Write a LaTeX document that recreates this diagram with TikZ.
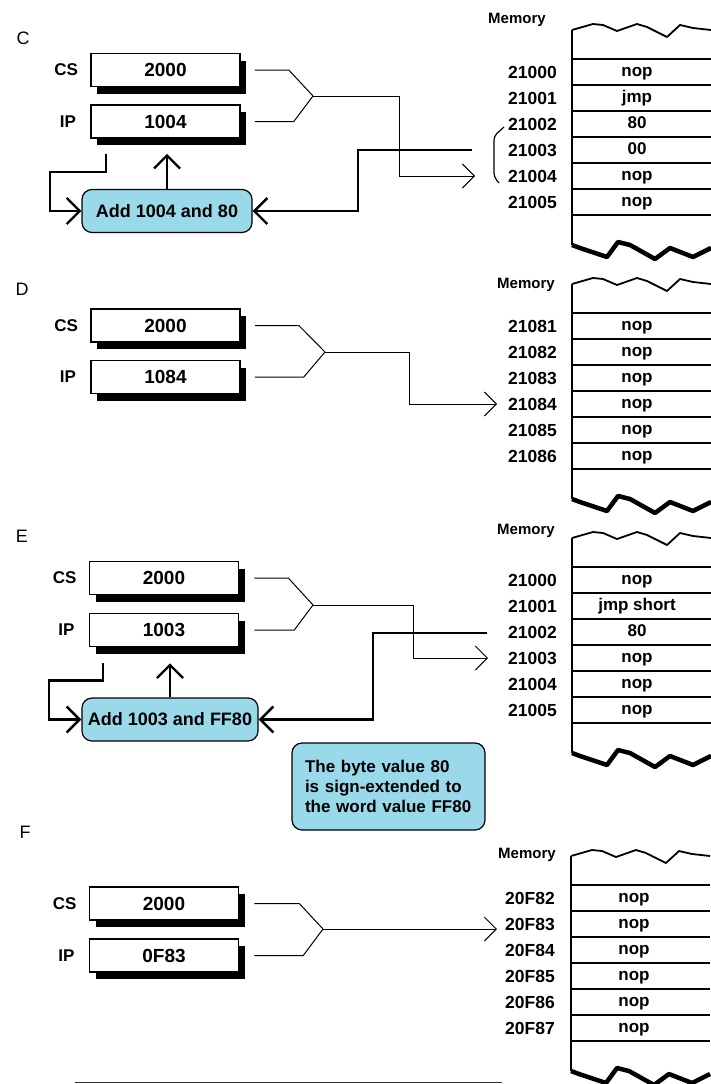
\documentclass[tikz,border=0pt]{standalone}
\usepackage{fontspec}
\setmainfont{Liberation Sans}
\usetikzlibrary{positioning,shadows,arrows.meta}
\definecolor{addblue}{RGB}{153,217,234}

\tikzset{
  reg/.style={draw, line width=1.6pt, fill=white, minimum width=149pt, minimum height=33pt,
    inner sep=0pt, font=\bfseries\fontsize{19}{19}\selectfont,
    drop shadow={shadow xshift=6pt, shadow yshift=-7pt, opacity=1, fill=black}},
  reglbl/.style={font=\bfseries\fontsize{17}{17}\selectfont, inner sep=2pt},
  adder/.style={draw, line width=1.2pt, fill=addblue, rounded corners=10pt, minimum width=170pt,
    minimum height=43pt, inner xsep=6pt, font=\bfseries\fontsize{18}{18}\selectfont},
  note/.style={draw, line width=1.2pt, fill=addblue, rounded corners=10pt, minimum width=193pt,
    minimum height=87pt, text width=167pt, align=left, inner xsep=13pt,
    font=\bfseries\fontsize{17}{20}\selectfont},
  addr/.style={anchor=east, inner sep=0pt, font=\bfseries\fontsize{17.5}{17.5}\selectfont},
  cell/.style={inner sep=0pt, text height=12pt, text depth=3.5pt,
    font=\bfseries\fontsize{17}{17}\selectfont},
  memlbl/.style={font=\bfseries\fontsize{15}{15}\selectfont},
  panel/.style={font=\fontsize{18}{18}\selectfont},
  wire/.style={line width=1pt},
  ptr/.style={wire, -{Straight Barb[length=12pt,width=24pt]}},
  bigptr/.style={line width=2.4pt, -{Straight Barb[length=13pt,width=26pt]}},
  % Speicherspalte mit Wellenkanten
  memframe/.pic={
    \draw[line width=2.4pt] (0,-29) -- (0,186);
    \draw[line width=1.8pt, line join=round] (0,-29) -- (21,-35) -- (31,-34) -- (45,-28) -- (65,-35)
      -- (75,-32) -- (95,-22) -- (108,-34) -- (121,-31) -- (139,-29);
    \draw[line width=4.5pt, line join=round] (0,186) -- (8,189) -- (35,198) -- (46,183) -- (58,186)
      -- (83,200) -- (98,189) -- (121,198) -- (139,189);
    \foreach \k in {0,...,6} \draw[line width=1.2pt] (0,{26*\k}) -- (139,{26*\k});
  }
}

\begin{document}
\begin{tikzpicture}[x=1pt, y=-1pt]
    \useasboundingbox (0,0) rectangle (711,1084);

    % C
    \node[panel] (labC) at (23,38) {C};
    \node[reg] (csC) at (165.5,70) {2000};
    \node[reg] (ipC) at (165.5,121.5) {1004};
    \node[reglbl, left=10pt of csC] (csCl) {CS};
    \node[reglbl, left=12pt of ipC] (ipCl) {IP};
    \node[adder] (addC) at (167,211) {Add 1004 and 80};

    \node[memlbl] (memC) at (517,20) {Memory};
    \pic at (572,59) {memframe};
    \foreach \a/\c [count=\i from 0] in {21000/nop,21001/jmp,21002/80,21003/00,21004/nop,21005/nop} {
        \node[addr] (aC\i) at (557,{72+26*\i}) {\a};
        \node[cell] (mC\i) at (637,{72+26*\i}) {\c};
    }
    \draw[line width=1.2pt, rounded corners=4pt] (504,127) -- (494,136) -- (494,177) -- (499,183);

    \coordinate (jC) at (313,96);
    \coordinate (tC) at (475,176);
    \coordinate (rC) at (472,150);
    \draw[wire] ([xshift=14pt]csC.east) -- ++(34,0) -- (jC);
    \draw[wire] ([xshift=14pt]ipC.east) -- ++(39,0) -- (jC);
    \draw[ptr] (jC) -- ++(86,0) |- (tC);
    \draw[bigptr] (rC) -- ++(-114,0) |- (addC.east);
    \draw[bigptr, shorten >=15pt] (addC.north) -- (addC.north |- ipC.south);
    \draw[bigptr] ([shift={(16,15)}]ipC.south west) -- ++(0,18) -- ++(-56,0) |- (addC.west);

    % D
    \node[panel] (labD) at (22,289) {D};
    \node[reg] (csD) at (165.5,325.5) {2000};
    \node[reg] (ipD) at (165.5,377) {1084};
    \node[reglbl, left=10pt of csD] (csDl) {CS};
    \node[reglbl, left=12pt of ipD] (ipDl) {IP};

    \node[memlbl] (memD) at (526,285) {Memory};
    \pic at (572,313) {memframe};
    \foreach \a/\c [count=\i from 0] in {21081/nop,21082/nop,21083/nop,21084/nop,21085/nop,21086/nop} {
        \node[addr] (aD\i) at (557,{326+26*\i}) {\a};
        \node[cell] (mD\i) at (637,{326+26*\i}) {\c};
    }

    \coordinate (jD) at (325,352);
    \coordinate (tD) at (497,404);
    \draw[wire] ([xshift=14pt]csD.east) -- ++(44,0) -- (jD);
    \draw[wire] ([xshift=14pt]ipD.east) -- ++(49,0) -- (jD);
    \draw[ptr] (jD) -- ++(84,0) |- (tD);

    % E
    \node[panel] (labE) at (22,536) {E};
    \node[reg] (csE) at (164,578) {2000};
    \node[reg] (ipE) at (164,630) {1003};
    \node[reglbl, left=10pt of csE] (csEl) {CS};
    \node[reglbl, left=12pt of ipE] (ipEl) {IP};
    \node[adder] (addE) at (170,719.5) {Add 1003 and FF80};
    \node[note] (noteE) at (388.5,786.5) {The byte value 80\\is sign-extended to\\the word value FF80};

    \node[memlbl] (memE) at (526,531) {Memory};
    \pic at (572,567) {memframe};
    \foreach \a/\c [count=\i from 0] in {21000/nop,21001/jmp short,21002/80,21003/nop,21004/nop,21005/nop} {
        \node[addr] (aE\i) at (557,{580+26*\i}) {\a};
        \node[cell] (mE\i) at (637,{580+26*\i}) {\c};
    }

    \coordinate (jE) at (313,605);
    \coordinate (tE) at (488,658);
    \coordinate (rE) at (487,633);
    \draw[wire] ([xshift=15pt]csE.east) -- ++(34,0) -- (jE);
    \draw[wire] ([xshift=15pt]ipE.east) -- ++(40,0) -- (jE);
    \draw[ptr] (jE) -- ++(100,0) |- (tE);
    \draw[bigptr] (rE) -- ++(-114,0) |- (addE.east);
    \draw[bigptr, shorten >=16pt] (addE.north) -- (addE.north |- ipE.south);
    \draw[bigptr] ([shift={(14,16)}]ipE.south west) -- ++(0,17) -- ++(-54,0) |- (addE.west);

    % F
    \node[panel] (labF) at (25,832) {F};
    \node[reg] (csF) at (164,903.5) {2000};
    \node[reg] (ipF) at (164,955.5) {0F83};
    \node[reglbl, left=10pt of csF] (csFl) {CS};
    \node[reglbl, left=12pt of ipF] (ipFl) {IP};

    \node[memlbl] (memF) at (527,855) {Memory};
    \pic at (571,885) {memframe};
    \foreach \a/\c [count=\i from 0] in {20F82/nop,20F83/nop,20F84/nop,20F85/nop,20F86/nop,20F87/nop} {
        \node[addr] (aF\i) at (555,{898+26*\i}) {\a};
        \node[cell] (mF\i) at (634,{898+26*\i}) {\c};
    }

    \coordinate (jF) at (323,929);
    \coordinate (tF) at (497,929);
    \draw[wire] ([xshift=15pt]csF.east) -- ++(45,0) -- (jF);
    \draw[wire] ([xshift=15pt]ipF.east) -- ++(49,0) -- (jF);
    \draw[ptr] (jF) -- (tF);

    % Abschlusslinie
    \draw[line width=1pt, black!80] (75,1082) -- (502,1082);
\end{tikzpicture}
\end{document}
